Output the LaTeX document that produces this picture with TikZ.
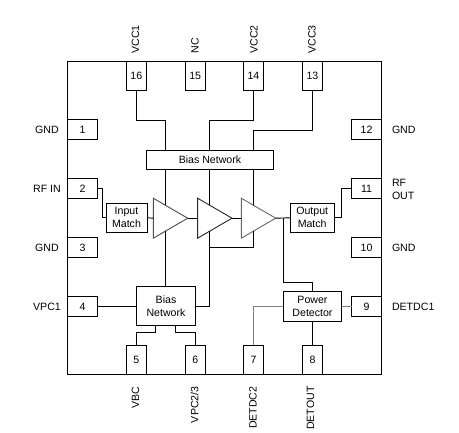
\documentclass[tikz,border=0pt]{standalone}
\usepackage{fontspec}
\setmainfont{Liberation Sans}
\usetikzlibrary{shapes.geometric}
\begin{document}
\begin{tikzpicture}[x=1pt,y=-1pt,line width=0.9pt,
  every node/.style={inner sep=0pt,outer sep=0pt,font=\fontsize{10.6}{13}\selectfont},
  hpin/.style={draw,minimum width=30pt,minimum height=19.5pt},
  vpin/.style={draw,minimum width=20pt,minimum height=29pt},
  block/.style={draw,align=center},
  amp/.style={draw,isosceles triangle,isosceles triangle stretches,shape border rotate=0,
    minimum width=40pt,minimum height=34.4pt,anchor=apex},
  wire/.style={draw=black},
  gwire/.style={draw=black!50},
  lab/.style={align=left}]
  \useasboundingbox (0,0) rectangle (459,433);
  % the package
  \node[draw,minimum width=314pt,minimum height=312.5pt] (chip) at (224.6,217.8) {};
  % pins, anticlockwise from the top left
  \node[hpin] (p1) at (82.5,129.7) {1};
  \node[hpin] (p2) at (82.5,188.7) {2};
  \node[hpin] (p3) at (82.5,247.5) {3};
  \node[hpin] (p4) at (82.5,306.5) {4};
  \node[vpin] (p5) at (136.3,359.8) {5};
  \node[vpin] (p6) at (195.2,359.8) {6};
  \node[vpin] (p7) at (253.5,359.8) {7};
  \node[vpin] (p8) at (312.5,359.8) {8};
  \node[hpin] (p9) at (366.6,306.5) {9};
  \node[hpin] (p10) at (366.6,247.5) {10};
  \node[hpin] (p11) at (366.6,188.7) {11};
  \node[hpin] (p12) at (366.6,129.7) {12};
  \node[vpin] (p13) at (312.5,76) {13};
  \node[vpin] (p14) at (253.5,76) {14};
  \node[vpin] (p15) at (195.2,76) {15};
  \node[vpin] (p16) at (136.3,76) {16};
  % pin names
  \node (n1) at (47,130) {GND};
  \node (n2) at (47,188.5) {RF IN};
  \node (n3) at (47,247.5) {GND};
  \node (n4) at (47,306.5) {VPC1};
  \node[rotate=90,anchor=east] (n5) at (135.5,386.5) {VBC};
  \node[rotate=90,anchor=east] (n6) at (194.5,386.5) {VPC2/3};
  \node[rotate=90,anchor=east] (n7) at (253,386.5) {DETDC2};
  \node[rotate=90,anchor=east] (n8) at (310.5,386.5) {DETOUT};
  \node[lab,anchor=west] (n9) at (392,306.5) {DETDC1};
  \node[lab,anchor=west] (n10) at (392,247.5) {GND};
  \node[lab,anchor=west] (n11) at (392,189.5) {RF\\OUT};
  \node[lab,anchor=west] (n12) at (392,130) {GND};
  \node[rotate=90,anchor=west] (n13) at (312,53.5) {VCC3};
  \node[rotate=90,anchor=west] (n14) at (254,53.5) {VCC2};
  \node[rotate=90,anchor=west] (n15) at (195,53.5) {NC};
  \node[rotate=90,anchor=west] (n16) at (135.5,53.5) {VCC1};
  % blocks
  \node[block,minimum width=126.6pt,minimum height=19.5pt] (biastop) at (210,159.8) {Bias Network};
  \node[block,minimum width=59.4pt,minimum height=38.6pt] (biaslow) at (166,306) {Bias\\Network};
  \node[block,minimum width=41pt,minimum height=28.7pt] (inmatch) at (126.5,217.8) {Input\\Match};
  \node[block,minimum width=44.5pt,minimum height=29pt] (outmatch) at (312.2,217.8) {Output\\Match};
  \node[block,minimum width=58.4pt,minimum height=29.6pt] (detector) at (312.5,306.5) {Power\\Detector};
  % the three stages
  \node[amp,draw=black!70] (amp1) at (187.7,218.2) {};
  \node[amp,draw=black!85] (amp2) at (232,218.2) {};
  \node[amp,draw=black!60] (amp3) at (275.7,218.2) {};
  \coordinate (a1top) at (165.5,205.4);
  \coordinate (a1bot) at (165.5,231);
  \coordinate (a2top) at (209.3,205.4);
  \coordinate (a2bot) at (209.3,231);
  \coordinate (a3top) at (253.5,205.4);
  \coordinate (a3bot) at (253.5,231);
  % supply lines
  \draw[wire] (p16.south) |- (165.5,120) -- (biastop.north -| a1top);
  \draw[wire] (p14.south) |- (209.3,120) -- (biastop.north -| a2top);
  \draw[wire] (p13.south) |- (253.5,130.3) -- (biastop.north -| a3top);
  \draw[wire] (biastop.south -| a1top) -- (a1top);
  \draw[wire] (biastop.south -| a2top) -- (a2top);
  \draw[wire] (biastop.south -| a3top) -- (a3top);
  \draw[wire] (a1bot) -- (biaslow.north -| a1bot);
  \draw[wire] (biaslow.east) -| (a2bot);
  \draw[wire] (a3bot) |- (209.3,247.3);
  % signal path
  \draw[wire] (p2.east) -- (102.5,188.7) |- (inmatch.west);
  \draw[wire] (inmatch.east) -- (amp1.lower side);
  \draw[wire] (amp1.apex) -- (amp2.lower side);
  \draw[wire] (amp2.apex) -- (amp3.lower side);
  \draw[wire] (amp3.apex) -- (outmatch.west);
  \draw[wire] (outmatch.east) -- (341,217.8) |- (p11.west);
  \draw[wire] (283.3,218.2) |- (312.5,282.3) -- (detector.north);
  \draw[wire] (detector.south) -- (p8.north);
  \draw[gwire] (detector.east) -- (p9.west);
  \draw[gwire] (detector.west) -| (p7.north);
  % bias inputs
  \draw[wire] (p4.east) -- (p4.east -| biaslow.west);
  \draw[wire] (155.7,325.3) |- (136.3,332.3) -- (p5.north);
  \draw[wire] (175.7,325.3) |- (195.2,332.3) -- (p6.north);
\end{tikzpicture}
\end{document}
